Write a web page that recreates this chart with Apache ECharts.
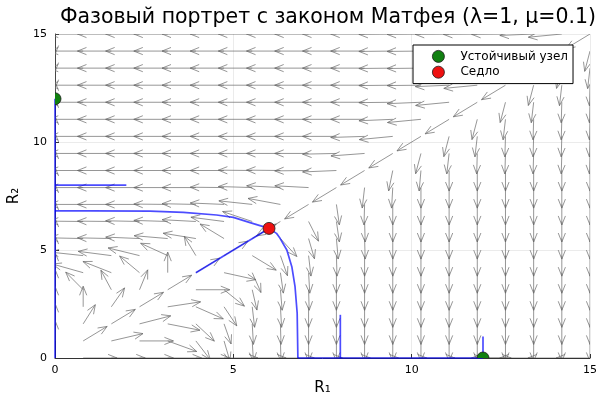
<!DOCTYPE html>
<html>
<head>
<meta charset="utf-8">
<script src="https://cdn.jsdelivr.net/npm/echarts@6.0.0/dist/echarts.min.js"></script>
<style>
  html, body { margin: 0; padding: 0; background: #fff; }
  #chart { width: 598px; height: 399px; }
</style>
</head>
<body>
<div id="chart"></div>
<script>
// узлы сетки поля направлений (одинаковы по R1 и R2)
const gridPos = [0, 0.79, 1.58, 2.37, 3.16, 3.95, 4.74, 5.53, 6.32, 7.11,
                 7.89, 8.68, 9.47, 10.26, 11.05, 11.84, 12.63, 13.42, 14.21, 15];

// длина стрелки в единицах данных (все стрелки нормированы)
const arrowLen = 0.95;

// направления стрелок, градусы; строка = R2 (снизу вверх), столбец = R1
const angRow0  = [null, 0, 0, 0, 0, 0, 0, 0, 0, 0, 0, 0, 0, 0, 0, 0, 180, 180, 180, 180];
const angRow1  = [90, 45, 21, 0, -31, -65, -80, -88, -89, -90, -90, -90, -90, -90, -90, -90, -90, -90, -90, -90];
const angRow2  = [90, 69, 45, 23, -18, -57, -78, -88, -89, -90, -90, -90, -90, -90, -90, -90, -90, -90, -90, -90];
const angRow3  = [90, 90, 67, 45, 14, -36, -68, -86, -88, -90, -90, -90, -90, -90, -90, -90, -90, -90, -90, -90];
const angRow4  = [90, 121, 108, 76, 45, 0, -53, -82, -87, -89, -90, -90, -90, -90, -90, -90, -90, -90, -90, -90];
const angRow5  = [90, 155, 147, 126, 90, 45, -20, -75, -85, -88, -90, -90, -90, -90, -90, -90, -90, -90, -90, -90];
const angRow6  = [90, 170, 168, 158, 143, 110, 45, -45, -78, -86, -89, -90, -90, -90, -90, -90, -90, -90, -90, -90];
const angRow7  = [90, 178, 178, 176, 172, 165, 135, 45, -61, -80, -87, -89, -90, -90, -90, -90, -90, -90, -90, -90];
const angRow8  = [90, 179, 179, 178, 177, 175, 168, 151, 225, -73, -85, -89, -90, -90, -90, -90, -90, -90, -90, -90];
const angRow9  = [90, 180, 180, 180, 179, 178, 176, 170, 163, 225, -85, -91, -90, -90, -90, -90, -90, -90, -90, -90];
const angRow10 = [90, 180, 180, 180, 180, 180, 179, 177, 175, 175, 225, -94, -92, -90, -90, -90, -90, -90, -90, -90];
const angRow11 = [90, 180, 180, 180, 180, 180, 180, 179, 179, 181, 184, 225, -97, -93, -90, -90, -90, -90, -90, -90];
const angRow12 = [90, 180, 180, 180, 180, 180, 180, 180, 180, 180, 182, 187, 225, -99, -94, -91, -91, -91, -91, -91];
const angRow13 = [90, 180, 180, 180, 180, 180, 180, 180, 180, 180, 180, 183, 189, 225, -99, -94, -91, -91, -91, -91];
const angRow14 = [90, 180, 180, 180, 180, 180, 180, 180, 180, 180, 180, 180, 184, 189, 225, -99, -94, -91, -91, -91];
const angRow15 = [90, 180, 180, 180, 180, 180, 180, 180, 180, 180, 180, 180, 181, 184, 189, 225, -99, -94, -91, -91];
const angRow16 = [-90, 180, 180, 180, 180, 180, 180, 180, 180, 180, 180, 180, 181, 181, 184, 189, 225, -99, -94, -91];
const angRow17 = [-90, 180, 180, 180, 180, 180, 180, 180, 180, 180, 180, 180, 181, 181, 181, 184, 189, 225, -99, -94];
const angRow18 = [-90, 180, 180, 180, 180, 180, 180, 180, 180, 180, 180, 180, 181, 181, 181, 181, 184, 189, 225, -99];
const angRow19 = [-90, 180, 180, 180, 180, 180, 180, 180, 180, 180, 180, 180, 181, 181, 181, 181, 181, 184, 189, 225];

const angleRows = [angRow0, angRow1, angRow2, angRow3, angRow4, angRow5, angRow6, angRow7, angRow8, angRow9,
                   angRow10, angRow11, angRow12, angRow13, angRow14, angRow15, angRow16, angRow17, angRow18, angRow19];

// траектории
const trajAxisR2   = [[0, 0], [0, 12]];
const trajTop      = [[2, 8], [0, 8]];
const trajLeft     = [[6.0, 6.0], [5.84, 6.08], [5.47, 6.27], [5.0, 6.51], [4.53, 6.62], [3.6, 6.74], [2.66, 6.8], [1.0, 6.81], [0, 6.81]];
const trajDown     = [[6.0, 6.0], [6.21, 5.77], [6.31, 5.54], [6.5, 5.0], [6.64, 4.23], [6.73, 3.3], [6.79, 2.07], [6.81, 0]];
const trajAxisR1   = [[6.81, 0], [12, 0]];
const trajDiag     = [[3.95, 3.95], [6, 6]];
const trajMid      = [[8, 2], [8, 0]];
const trajRight    = [[12, 1], [12, 0]];

// особые точки
const stableNodes = [[0, 12], [12, 0]];
const saddles = [[6, 6]];

const titleText = 'Фазовый портрет с законом Матфея (λ=1, μ=0.1)';
const font = 'DejaVu Sans';

let quiverData = [];
angleRows.forEach((row, j) => {
    row.forEach((a, i) => {
        if (a !== null) quiverData.push([gridPos[i], gridPos[j], a]);
    });
});

function renderArrow(params, api) {
    const x = api.value(0), y = api.value(1);
    const a = api.value(2) * Math.PI / 180;
    const p0 = api.coord([x, y]);
    const p1 = api.coord([x + arrowLen * Math.cos(a), y + arrowLen * Math.sin(a)]);
    const dx = p1[0] - p0[0], dy = p1[1] - p0[1];
    const len = Math.hypot(dx, dy) || 1;
    const ux = dx / len, uy = dy / len;
    const h = 9, w = 3.6;
    const b1 = [p1[0] - h * ux - w * uy, p1[1] - h * uy + w * ux];
    const b2 = [p1[0] - h * ux + w * uy, p1[1] - h * uy - w * ux];
    const st = { stroke: 'rgba(105,105,105,0.7)', lineWidth: 1, fill: null };
    return {
        type: 'group',
        children: [
            { type: 'line', shape: { x1: p0[0], y1: p0[1], x2: p1[0], y2: p1[1] }, style: st },
            { type: 'polyline', shape: { points: [b1, p1, b2] }, style: st }
        ]
    };
}

function renderDot(params, api) {
    const p = api.coord([api.value(0), api.value(1)]);
    const cs = params.coordSys;
    return {
        type: 'circle',
        shape: { cx: p[0], cy: p[1], r: 6 },
        style: { fill: api.visual('color'), stroke: '#1a1a1a', lineWidth: 0.8 },
        clipPath: { type: 'rect', shape: { x: cs.x, y: cs.y, width: cs.width, height: cs.height } }
    };
}

function trajSeries(data) {
    return {
        type: 'line',
        data: data,
        showSymbol: false,
        clip: false,
        silent: true,
        lineStyle: { color: 'rgba(0,0,255,0.7)', width: 1.7 },
        z: 3
    };
}

const chart = echarts.init(document.getElementById('chart'));
chart.setOption({
    animation: false,
    backgroundColor: '#fff',
    title: {
        text: titleText,
        left: 323,
        textAlign: 'center',
        top: 2,
        textStyle: { fontFamily: font, fontSize: 20.5, fontWeight: 'normal', color: '#000' }
    },
    grid: { left: 55, right: 8, top: 34, bottom: 41, outerBoundsMode: 'none' },
    legend: {
        left: 413,
        top: 45,
        orient: 'vertical',
        backgroundColor: '#fff',
        borderColor: '#000',
        borderWidth: 1,
        borderRadius: 0,
        padding: [5, 5, 5, 19],
        itemWidth: 12,
        itemHeight: 12,
        itemGap: 3,
        itemStyle: { borderColor: '#1a1a1a', borderWidth: 0.8 },
        textStyle: { fontFamily: font, fontSize: 12, color: '#000', padding: [0, 0, 0, 11] },
        data: [
            { name: 'Устойчивый узел', icon: 'circle' },
            { name: 'Седло', icon: 'circle' }
        ]
    },
    xAxis: {
        type: 'value',
        min: 0, max: 15, interval: 5,
        name: 'R₁',
        nameLocation: 'middle',
        nameGap: 23,
        nameTextStyle: { fontFamily: font, fontSize: 15, color: '#000' },
        axisLine: { lineStyle: { color: '#333', width: 1 } },
        axisTick: { inside: true, length: 4, lineStyle: { color: '#333' } },
        axisLabel: { fontFamily: font, fontSize: 11, color: '#000', margin: 7 },
        splitLine: { show: true, lineStyle: { color: 'rgba(0,0,0,0.08)' } }
    },
    yAxis: {
        type: 'value',
        min: 0, max: 15, interval: 5,
        name: 'R₂',
        nameLocation: 'middle',
        nameGap: 32,
        nameTextStyle: { fontFamily: font, fontSize: 15, color: '#000' },
        axisLine: { show: true, lineStyle: { color: '#333', width: 1 } },
        axisTick: { show: true, inside: true, length: 4, lineStyle: { color: '#333' } },
        axisLabel: { fontFamily: font, fontSize: 11, color: '#000', margin: 8 },
        splitLine: { show: true, lineStyle: { color: 'rgba(0,0,0,0.08)' } }
    },
    series: [
        {
            name: 'поле',
            type: 'custom',
            renderItem: renderArrow,
            data: quiverData,
            encode: { x: 0, y: 1 },
            clip: true,
            silent: true,
            z: 2
        },
        trajSeries(trajAxisR2),
        trajSeries(trajTop),
        trajSeries(trajLeft),
        trajSeries(trajDown),
        trajSeries(trajAxisR1),
        trajSeries(trajDiag),
        trajSeries(trajMid),
        trajSeries(trajRight),
        {
            name: 'Устойчивый узел',
            type: 'custom',
            renderItem: renderDot,
            data: stableNodes,
            encode: { x: 0, y: 1 },
            clip: true,
            itemStyle: { color: '#118011' },
            z: 5
        },
        {
            name: 'Седло',
            type: 'custom',
            renderItem: renderDot,
            data: saddles,
            encode: { x: 0, y: 1 },
            clip: true,
            itemStyle: { color: '#ee1111' },
            z: 5
        }
    ]
});
</script>
</body>
</html>
